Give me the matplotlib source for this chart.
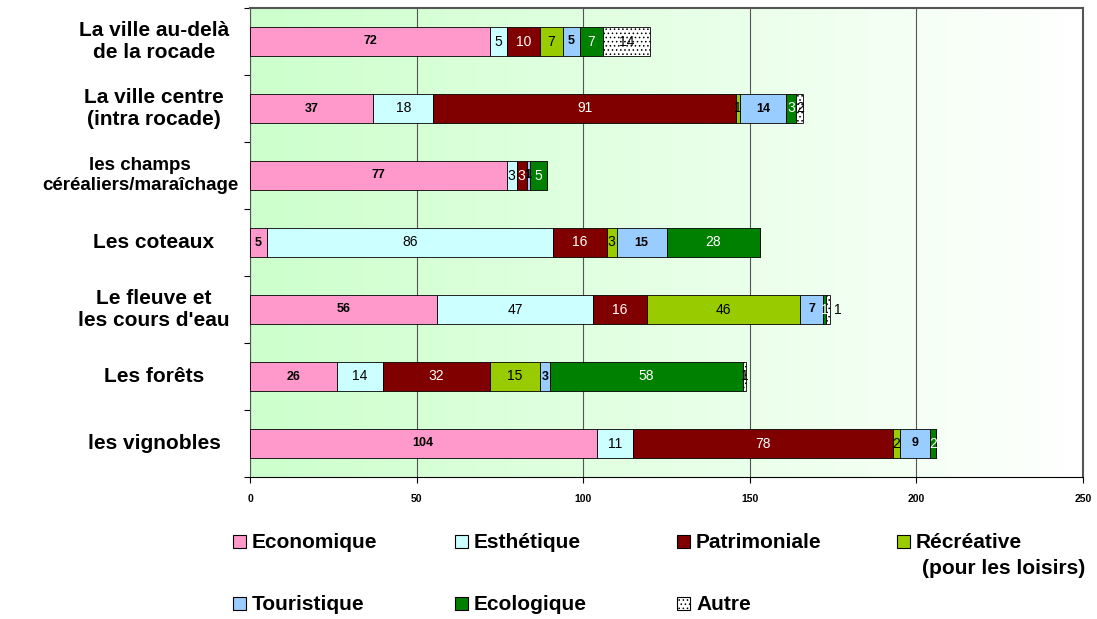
import numpy as np
import matplotlib.pyplot as plt
from matplotlib.patches import Rectangle

plt.rcParams['font.family'] = ['Liberation Sans', 'DejaVu Sans']
plt.rcParams['hatch.linewidth'] = 0.6

categories = ["La ville au-delà\nde la rocade", "La ville centre\n(intra rocade)",
              "les champs\ncéréaliers/maraîchage", "Les coteaux",
              "Le fleuve et\nles cours d'eau", "Les forêts", "les vignobles"]
series = ["Economique", "Esthétique", "Patrimoniale", "Récréative\n(pour les loisirs)",
          "Touristique", "Ecologique", "Autre"]
economique = [72, 37, 77, 5, 56, 26, 104]
esthetique = [5, 18, 3, 86, 47, 14, 11]
patrimoniale = [10, 91, 3, 16, 16, 32, 78]
recreative = [7, 1, 0, 3, 46, 15, 2]
touristique = [5, 14, 1, 15, 7, 3, 9]
ecologique = [7, 3, 5, 28, 1, 58, 2]
autre = [14, 2, 0, 0, 1, 1, 0]
xticks = [0, 50, 100, 150, 200, 250]

values = [economique, esthetique, patrimoniale, recreative, touristique, ecologique, autre]
colors = ["#FF99CC", "#CCFFFF", "#800000", "#99CC00", "#99CCFF", "#008000", "#FFFFFF"]
txt_colors = ["black", "black", "white", "black", "black", "white", "black"]
txt_weight = ["bold", "normal", "normal", "normal", "bold", "normal", "normal"]
hatches = [None, None, None, None, None, None, "...."]

fig = plt.figure(figsize=(10.97, 6.19), dpi=100)
ax = fig.add_axes([250 / 1097, 1 - 477 / 619, 833 / 1097, 469 / 619])

n = len(categories)
y = np.arange(n)[::-1]

# green-to-white background gradient
grad = np.linspace(0, 1, 256).reshape(1, -1)
start = np.array([0.80, 1.0, 0.80])
rgb = start[None, None, :] * (1 - grad[..., None]) + np.ones(3)[None, None, :] * grad[..., None]
ax.imshow(rgb, extent=[0, 250, -0.5, n - 0.5], aspect='auto', zorder=0)

left = np.zeros(n)
for k, vals in enumerate(values):
    vals = np.array(vals, dtype=float)
    ax.barh(y, vals, left=left, height=0.42, color=colors[k], edgecolor='black',
            linewidth=0.6, hatch=hatches[k], zorder=3)
    for i in range(n):
        if vals[i] > 0:
            fs = 10 if txt_weight[k] == 'normal' else 9
            xc = left[i] + vals[i] / 2
            if k == 6 and i == 4:
                xc = left[i] + vals[i] + 2.5
            ax.text(xc, y[i], f"{int(vals[i])}", ha='center', va='center',
                    color=txt_colors[k], fontsize=fs, fontweight=txt_weight[k], zorder=4)
    left += vals

ax.set_xlim(0, 250)
ax.set_ylim(-0.5, n - 0.5)
ax.set_xticks(xticks)
ax.set_xticklabels([str(t) for t in xticks], fontsize=7.5, fontweight='bold')
ax.grid(axis='x', color='#555555', linewidth=0.8, zorder=1)
ax.set_yticks(np.arange(n + 1) - 0.5)
ax.set_yticklabels([])
ax.tick_params(axis='y', length=4, direction='out')
ax.tick_params(axis='x', length=4, direction='out', pad=8)
for i, c in enumerate(categories):
    if i == 2:
        ax.text(-33, y[i], c, ha='center', va='center', fontsize=13.5, fontweight='bold',
                multialignment='center')
    else:
        ax.text(-28.8, y[i], c, ha='center', va='center', fontsize=15, fontweight='bold',
                multialignment='center')
for s in ['top', 'right']:
    ax.spines[s].set_color('#555555')
    ax.spines[s].set_linewidth(1.5)
ax.spines['left'].set_color('#555555')
ax.spines['bottom'].set_color('black')

# legend drawn by hand
leg_x = [233, 455, 677, 897]
leg_y = [541, 603]
for k, name in enumerate(series):
    row, col = divmod(k, 4)
    px, py = leg_x[col], leg_y[row]
    fig.add_artist(Rectangle((px / 1097, 1 - (py + 7) / 619), 13 / 1097, 13 / 619,
                             transform=fig.transFigure, facecolor=colors[k],
                             edgecolor='black', linewidth=0.8, hatch=hatches[k]))
    lines = name.split("\n")
    fig.text((px + 19) / 1097, 1 - (py + 1) / 619, lines[0], ha='left', va='center',
             fontsize=15, fontweight='bold')
    if len(lines) > 1:
        fig.text((px + 25) / 1097, 1 - (py + 28) / 619, lines[1], ha='left', va='center',
                 fontsize=15, fontweight='bold')

fig.savefig("out.png", dpi=100)
